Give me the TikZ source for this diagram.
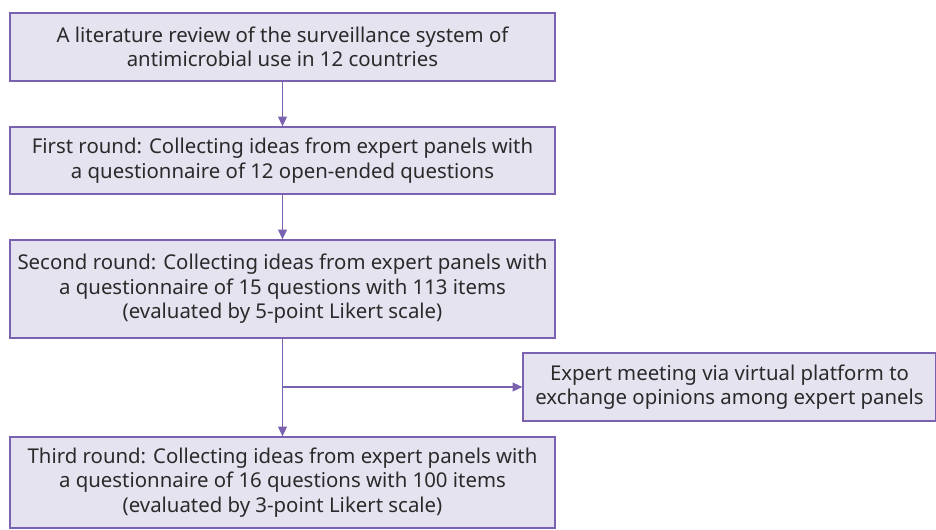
\documentclass[tikz,border=0pt]{standalone}
\usepackage{fontspec}
\setmainfont{Noto Sans}
\usetikzlibrary{arrows.meta}
\definecolor{boxfill}{HTML}{E6E3F0}
\definecolor{boxline}{HTML}{7A62B0}
\definecolor{txtgray}{HTML}{2A2A2A}
\tikzset{
  stagebox/.style={draw=boxline, fill=boxfill, line width=0.75pt, align=center,
    text=txtgray, inner sep=0pt, font=\fontsize{11.6}{13.9}\selectfont},
  flow/.style={draw=boxline, line width=0.75pt, -{Triangle[length=5.5pt,width=5pt]}}
}

\begin{document}
\begin{tikzpicture}[x=0.02cm, y=-0.02cm]
	%%%%% START %%%%%
	\useasboundingbox (0,0) rectangle (936,529);

	\node[stagebox, minimum width=10.9cm, minimum height=1.36cm] (review) at (282.5, 47)
		{A literature review of the surveillance system of\\antimicrobial use in 12 countries};
	\node[stagebox, minimum width=10.9cm, minimum height=1.34cm] (first) at (282.5, 160.5)
		{First round: Collecting ideas from expert panels with\\a questionnaire of 12 open-ended questions};
	\node[stagebox, minimum width=10.9cm, minimum height=1.96cm] (second) at (282.5, 289)
		{Second round: Collecting ideas from expert panels with\\a questionnaire of 15 questions with 113 items\\(evaluated by 5-point Likert scale)};
	\node[stagebox, minimum width=8.26cm, minimum height=1.36cm] (meeting) at (729.5, 387)
		{Expert meeting via virtual platform to\\exchange opinions among expert panels};
	\node[stagebox, minimum width=10.9cm, minimum height=1.82cm] (third) at (282.5, 482.5)
		{Third round: Collecting ideas from expert panels with\\a questionnaire of 16 questions with 100 items\\(evaluated by 3-point Likert scale)};

	\draw[flow] (review) -- (first);
	\draw[flow] (first) -- (second);
	\draw[flow] (second) -- (third);
	\coordinate (branch) at (second.south |- meeting.west);
	\draw[flow] (branch) -- (meeting.west);
	%%%%% END %%%%%
\end{tikzpicture}
\end{document}
